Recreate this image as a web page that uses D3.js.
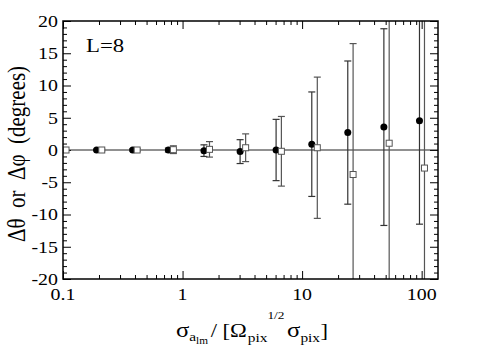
<!DOCTYPE html>
<html>
<head>
<meta charset="utf-8">
<script src="https://cdn.jsdelivr.net/npm/d3@7"></script>
<style>
  body { margin: 0; background: #fff; }
</style>
</head>
<body>
<div id="chart"></div>
<script>
// filled circles (Δθ)
const circX   = [0.095, 0.191, 0.383, 0.761, 1.51, 3.03, 6.06, 12.05, 24.1, 48.3, 95.9];
const circY   = [0, 0, 0, 0, -0.1, -0.25, 0, 0.9, 2.7, 3.55, 4.55];
const circErr = [0, 0.1, 0.15, 0.3, 0.9, 1.85, 4.75, 8.1, 11.1, 15.25, 16.05];

// open squares (Δφ)
const sqX   = [0.106, 0.211, 0.417, 0.838, 1.68, 3.37, 6.71, 13.4, 26.7, 53.5, 105.6];
const sqY   = [0, 0, 0, 0.05, 0.1, 0.35, -0.2, 0.35, -3.8, 1.05, -2.8];
const sqErr = [0, 0.15, 0.2, 0.6, 1.2, 2.15, 5.4, 10.95, 20.3, 22, 25];

const xTickValues = [0.1, 1, 10, 100];
const xTickLabels = ["0.1", "1", "10", "100"];
const yTickValues = [-20, -15, -10, -5, 0, 5, 10, 15, 20];
const yTickLabels = ["-20", "-15", "-10", "-5", "0", "5", "10", "15", "20"];

const width = 485, height = 346;
const plot = { left: 63, top: 21, right: 438, bottom: 279 };

// pick a serif face that is really installed
function hasFont(name) {
  const ctx = document.createElement("canvas").getContext("2d");
  const probe = "mmmmWWWiiilll0123.ΔθΩσ";
  return ["monospace", "sans-serif"].some(base => {
    ctx.font = `40px ${base}`;
    const w0 = ctx.measureText(probe).width;
    ctx.font = `40px '${name}', ${base}`;
    return ctx.measureText(probe).width !== w0;
  });
}
const serifFaces = ["Liberation Serif", "Times New Roman", "Tinos", "Nimbus Roman", "FreeSerif", "DejaVu Serif", "Noto Serif"];
const face = serifFaces.find(hasFont);
const serif = face ? `'${face}', serif` : "serif";
const isTimes = face && face !== "DejaVu Serif" && face !== "Noto Serif";
const stretch = isTimes ? 1.17 : 1.0;   // the original lettering is a bit wide

const svg = d3.select("#chart").append("svg")
  .attr("width", width).attr("height", height)
  .attr("font-family", serif)

const x = d3.scaleLog().domain([0.1, 137]).range([plot.left, plot.right])
const y = d3.scaleLinear().domain([-20, 20]).range([plot.bottom, plot.top])

const xMinor = x.ticks().filter(d => !xTickValues.some(v => Math.abs(v - d) < 1e-9))
const yMinor = d3.range(-20, 21, 1).filter(d => d % 5 !== 0)

function ticks(axis, tx, ty, values, size) {
  const g = svg.append("g")
    .attr("transform", `translate(${tx},${ty})`)
    .call(axis.tickValues(values).tickSize(-size).tickSizeOuter(0).tickFormat(""))
  g.select(".domain").remove()
  g.selectAll("line").attr("stroke", "#000").attr("stroke-width", 1)
}

ticks(d3.axisBottom(x), 0, plot.bottom, xTickValues, 8)
ticks(d3.axisBottom(x), 0, plot.bottom, xMinor, 4)
ticks(d3.axisTop(x), 0, plot.top, xTickValues, 8)
ticks(d3.axisTop(x), 0, plot.top, xMinor, 4)
ticks(d3.axisLeft(y), plot.left, 0, yTickValues, 8)
ticks(d3.axisLeft(y), plot.left, 0, yMinor, 4)
ticks(d3.axisRight(y), plot.right, 0, yTickValues, 8)
ticks(d3.axisRight(y), plot.right, 0, yMinor, 4)

// zero line
svg.append("line")
  .attr("x1", plot.left).attr("x2", plot.right)
  .attr("y1", y(0)).attr("y2", y(0))
  .attr("stroke", "#222").attr("stroke-width", 1)

svg.append("defs").append("clipPath").attr("id", "clip")
  .append("rect")
  .attr("x", plot.left).attr("y", plot.top)
  .attr("width", plot.right - plot.left).attr("height", plot.bottom - plot.top)

const marks = svg.append("g").attr("clip-path", "url(#clip)")

const circles = circX.map((d, i) => ({ x: d, y: circY[i], e: circErr[i] }))
const squares = sqX.map((d, i) => ({ x: d, y: sqY[i], e: sqErr[i] }))

function errorBars(data, color) {
  const g = marks.append("g").attr("stroke", color).attr("stroke-width", 1.2).attr("fill", "none")
  const bars = data.filter(d => d.e > 0)
  g.selectAll("line.v").data(bars).enter().append("line")
    .attr("x1", d => x(d.x)).attr("x2", d => x(d.x))
    .attr("y1", d => y(d.y + d.e)).attr("y2", d => y(d.y - d.e))
  g.selectAll("line.top").data(bars).enter().append("line")
    .attr("x1", d => x(d.x) - 3.5).attr("x2", d => x(d.x) + 3.5)
    .attr("y1", d => y(d.y + d.e)).attr("y2", d => y(d.y + d.e))
  g.selectAll("line.bot").data(bars).enter().append("line")
    .attr("x1", d => x(d.x) - 3.5).attr("x2", d => x(d.x) + 3.5)
    .attr("y1", d => y(d.y - d.e)).attr("y2", d => y(d.y - d.e))
}

errorBars(circles, "#333")
errorBars(squares, "#555")

marks.selectAll("circle").data(circles).enter().append("circle")
  .attr("cx", d => x(d.x)).attr("cy", d => y(d.y))
  .attr("r", 3.5).attr("fill", "#000")

marks.selectAll("rect.sq").data(squares).enter().append("rect")
  .attr("class", "sq")
  .attr("x", d => x(d.x) - 3).attr("y", d => y(d.y) - 3)
  .attr("width", 6).attr("height", 6)
  .attr("fill", "#fff").attr("stroke", "#555").attr("stroke-width", 1)

// frame
svg.append("rect")
  .attr("x", plot.left).attr("y", plot.top)
  .attr("width", plot.right - plot.left).attr("height", plot.bottom - plot.top)
  .attr("fill", "none").attr("stroke", "#000").attr("stroke-width", 1.5)

const tickFont = isTimes ? 17 : 15.5;

// tick labels
svg.selectAll("text.ylab").data(yTickValues).enter().append("text")
  .attr("class", "ylab")
  .attr("text-anchor", "end")
  .attr("font-size", tickFont)
  .attr("transform", d => `translate(58,${y(d) + 5.8}) scale(${stretch},1)`)
  .text((d, i) => yTickLabels[i])

svg.selectAll("text.xlab").data(xTickValues).enter().append("text")
  .attr("class", "xlab")
  .attr("text-anchor", "middle")
  .attr("font-size", tickFont)
  .attr("transform", d => `translate(${x(d)},299.5) scale(${stretch},1)`)
  .text((d, i) => xTickLabels[i])

// L=8
svg.append("text")
  .attr("font-size", isTimes ? 19.5 : 18)
  .attr("transform", `translate(86,52) scale(${stretch},1)`)
  .text("L=8")

// y title, sized to span the same length as the original
const yTitle = svg.append("text")
  .attr("text-anchor", "middle")
  .attr("font-size", 22)
  .style("white-space", "pre")
  .text("Δθ  or  Δφ  (degrees)")
const yLen = yTitle.node().getComputedTextLength()
const ySize = Math.min(21, 22 * 190 / yLen)
yTitle.attr("font-size", ySize)
  .attr("transform", `translate(${4 + ySize},154) scale(${stretch},1) rotate(-90)`)

// x title, laid out piece by piece
const xTitle = [
  { t: "σ",   dy: 0,   s: 24, gap: 0 },
  { t: "a",   dy: 5,   s: 15, gap: 0 },
  { t: "lm",  dy: 8,   s: 11, gap: 3 },
  { t: "/ [Ω", dy: 0,  s: 22, gap: 1 },
  { t: "pix", dy: 6,   s: 15, gap: 0 },
  { t: "1/2", dy: -20, s: 13, gap: 3 },
  { t: "σ",   dy: 0,   s: 24, gap: 0 },
  { t: "pix", dy: 6,   s: 15, gap: 0.5 },
  { t: "]",   dy: 0,   s: 22, gap: 0 }
]
const xt = svg.append("g")
let cursor = 0
xTitle.forEach(p => {
  const t = xt.append("text")
    .attr("font-size", p.s)
    .style("white-space", "pre")
    .text(p.t)
  const w = t.node().getComputedTextLength() * stretch
  t.attr("transform", `translate(${cursor},${p.dy}) scale(${stretch},1)`)
  cursor += w + p.gap
})
// fit into the original's span (176 .. 328), baseline at 337
const fit = Math.min(1, 152 / cursor)
xt.attr("transform", `translate(${252 - cursor * fit / 2},${337 - (1 - fit) * 4}) scale(${fit})`)
</script>
</body>
</html>
